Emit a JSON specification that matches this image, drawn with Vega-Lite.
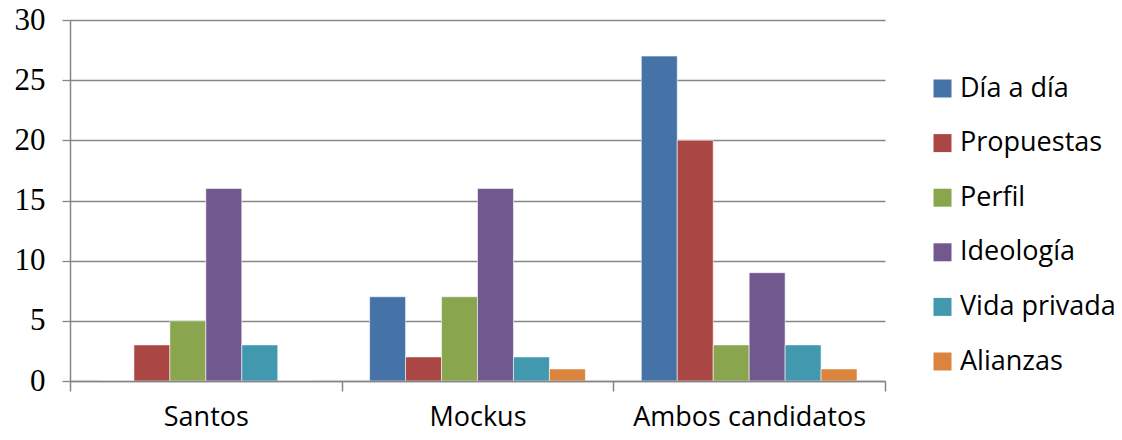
{
  "$schema": "https://vega.github.io/schema/vega-lite/v6.json",
  "width": 815,
  "height": 361,
  "autosize": {"type": "none"},
  "padding": {"left": 70, "top": 20, "right": 237, "bottom": 59},
  "background": "white",
  "config": {"view": {"stroke": null}},
  "data": {"values": [
    {"grupo": "Santos", "tema": "Día a día", "valor": 0},
    {"grupo": "Santos", "tema": "Propuestas", "valor": 3},
    {"grupo": "Santos", "tema": "Perfil", "valor": 5},
    {"grupo": "Santos", "tema": "Ideología", "valor": 16},
    {"grupo": "Santos", "tema": "Vida privada", "valor": 3},
    {"grupo": "Santos", "tema": "Alianzas", "valor": 0},
    {"grupo": "Mockus", "tema": "Día a día", "valor": 7},
    {"grupo": "Mockus", "tema": "Propuestas", "valor": 2},
    {"grupo": "Mockus", "tema": "Perfil", "valor": 7},
    {"grupo": "Mockus", "tema": "Ideología", "valor": 16},
    {"grupo": "Mockus", "tema": "Vida privada", "valor": 2},
    {"grupo": "Mockus", "tema": "Alianzas", "valor": 1},
    {"grupo": "Ambos candidatos", "tema": "Día a día", "valor": 27},
    {"grupo": "Ambos candidatos", "tema": "Propuestas", "valor": 20},
    {"grupo": "Ambos candidatos", "tema": "Perfil", "valor": 3},
    {"grupo": "Ambos candidatos", "tema": "Ideología", "valor": 9},
    {"grupo": "Ambos candidatos", "tema": "Vida privada", "valor": 3},
    {"grupo": "Ambos candidatos", "tema": "Alianzas", "valor": 1}
  ]},
  "mark": {"type": "bar", "stroke": "white", "strokeWidth": 0.8, "strokeOpacity": 0.7},
  "encoding": {
    "x": {
      "field": "grupo", "type": "nominal", "sort": ["Santos", "Mockus", "Ambos candidatos"],
      "scale": {"paddingInner": 0, "paddingOuter": 0},
      "axis": {
        "title": null, "labelAngle": 0, "tickBand": "extent", "zindex": 1,
        "domainColor": "#868686", "domainWidth": 1.5, "tickColor": "#868686", "tickWidth": 1.5, "tickSize": 10,
        "labelFont": "Open Sans", "labelFontSize": 27, "labelColor": "black", "labelPadding": 13, "labelLimit": 400
      }
    },
    "xOffset": {
      "field": "tema", "type": "nominal",
      "sort": ["Día a día", "Propuestas", "Perfil", "Ideología", "Vida privada", "Alianzas"],
      "scale": {"paddingInner": 0, "paddingOuter": 0.778}
    },
    "y": {
      "field": "valor", "type": "quantitative",
      "scale": {"domain": [0, 30], "nice": false},
      "axis": {
        "title": null, "values": [0, 5, 10, 15, 20, 25, 30], "zindex": 0,
        "grid": true, "gridColor": "#868686", "gridWidth": 1.3,
        "domainColor": "#868686", "domainWidth": 1.5, "tickColor": "#868686", "tickWidth": 1.3, "tickSize": 8,
        "labelFont": "Liberation Serif", "labelFontSize": 31, "labelColor": "black", "labelPadding": 17
      }
    },
    "color": {
      "field": "tema", "type": "nominal",
      "sort": ["Día a día", "Propuestas", "Perfil", "Ideología", "Vida privada", "Alianzas"],
      "scale": {
        "domain": ["Día a día", "Propuestas", "Perfil", "Ideología", "Vida privada", "Alianzas"],
        "range": ["#4572A7", "#AA4643", "#89A54E", "#71588F", "#4198AF", "#DB843D"]
      },
      "legend": {
        "title": null, "orient": "none", "legendX": 859, "legendY": 55,
        "symbolType": "square", "symbolSize": 324, "symbolStrokeWidth": 0, "symbolOpacity": 1,
        "labelFont": "Open Sans", "labelFontSize": 27, "labelColor": "black",
        "labelOffset": 4, "rowPadding": 26.6, "labelLimit": 300
      }
    }
  }
}
